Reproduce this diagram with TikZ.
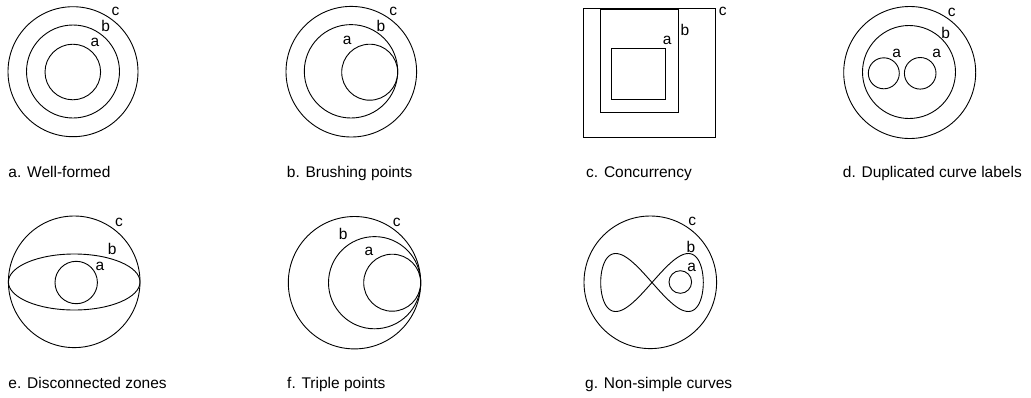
\documentclass[tikz,border=0pt]{standalone}
\usepackage{fontspec}
\setmainfont{Liberation Sans}
\begin{document}
\begin{tikzpicture}[x=1pt,y=-1pt,
  curve/.style={draw=black,line width=0.9pt},
  lbl/.style={inner sep=0pt,font=\fontsize{15.5}{18}\selectfont},
  captxt/.style={inner sep=0pt,anchor=base west,font=\fontsize{15.5}{18}\selectfont}]
\useasboundingbox (0,0) rectangle (1031,397);
% a. Well-formed
\draw[curve] (73,71.7) circle[radius=65];
\draw[curve] (73,71.5) circle[radius=46.5];
\draw[curve] (72.8,72) circle[radius=27.8];
\node[lbl] (ac) at (115.5,11.2) {c};
\node[lbl] (ab) at (105.8,26.2) {b};
\node[lbl] (aa) at (95,42.5) {a};
\node[captxt] (capa) at (8.3,177.7) {a. Well-formed};
% b. Brushing points
\draw[curve] (351.3,71.7) circle[radius=65.3];
\draw[curve] (351,71.3) circle[radius=46.7];
\draw[curve] (369.7,72.2) circle[radius=28];
\node[lbl] (bc) at (393.3,11) {c};
\node[lbl] (bb) at (381,26) {b};
\node[lbl] (ba) at (347.3,40.7) {a};
\node[captxt] (capb) at (286.7,177.7) {b. Brushing points};
% c. Concurrency
\draw[curve] (583.3,8.3) rectangle (715.7,137.3);
\draw[curve] (600.3,9.3) rectangle (678.3,112.3);
\draw[curve] (611.7,48.7) rectangle (665.7,99.3);
\node[lbl] (cc) at (722.7,11.7) {c};
\node[lbl] (cb) at (685,30) {b};
\node[lbl] (ca) at (667.3,40.7) {a};
\node[captxt] (capc) at (586,177.7) {c. Concurrency};
% d. Duplicated curve labels
\draw[curve] (909.7,72.5) circle[radius=66];
\draw[curve] (909,72) circle[radius=46.5];
\draw[curve] (883.8,73.3) circle[radius=15.5];
\draw[curve] (920.2,73.3) circle[radius=15.8];
\node[lbl] (dc) at (951.7,12.3) {c};
\node[lbl] (db) at (945.7,33.3) {b};
\node[lbl] (da1) at (896.7,53.3) {a};
\node[lbl] (da2) at (936.7,53.3) {a};
\node[captxt] (capd) at (842.7,177.7) {d. Duplicated curve labels};
% e. Disconnected zones
\draw[curve] (74.2,281.8) circle[radius=65.8];
\draw[curve] (74.2,282) ellipse[x radius=65.8,y radius=28];
\draw[curve] (76.2,282.5) circle[radius=21.2];
\node[lbl] (ec) at (119,222.7) {c};
\node[lbl] (eb) at (112.3,249.3) {b};
\node[lbl] (ea) at (100,266.7) {a};
\node[captxt] (cape) at (8.3,388) {e. Disconnected zones};
% f. Triple points
\draw[curve] (354.5,282.7) circle[radius=66.2];
\draw[curve] (374.6,282.7) circle[radius=46.1];
\draw[curve] (392.2,282.7) circle[radius=28.5];
\node[lbl] (fc) at (396.7,222.3) {c};
\node[lbl] (fb) at (343.3,234.3) {b};
\node[lbl] (fa) at (369,251) {a};
\node[captxt] (capf) at (287,388) {f. Triple points};
% g. Non-simple curves
\draw[curve] (650.3,282.3) circle[radius=66.3];
\draw[curve] plot[domain=0:360,samples=121,smooth,variable=\t]
  ({652+51.3*cos(\t)},{282.5-58*sin(\t)*cos(\t)});
\draw[curve] (680.3,282) circle[radius=11.3];
\node[lbl] (gc) at (692.3,221.7) {c};
\node[lbl] (gb) at (691,247.3) {b};
\node[lbl] (ga) at (691.7,267.7) {a};
\node[captxt] (capg) at (585,388) {g. Non-simple curves};
\end{tikzpicture}
\end{document}
